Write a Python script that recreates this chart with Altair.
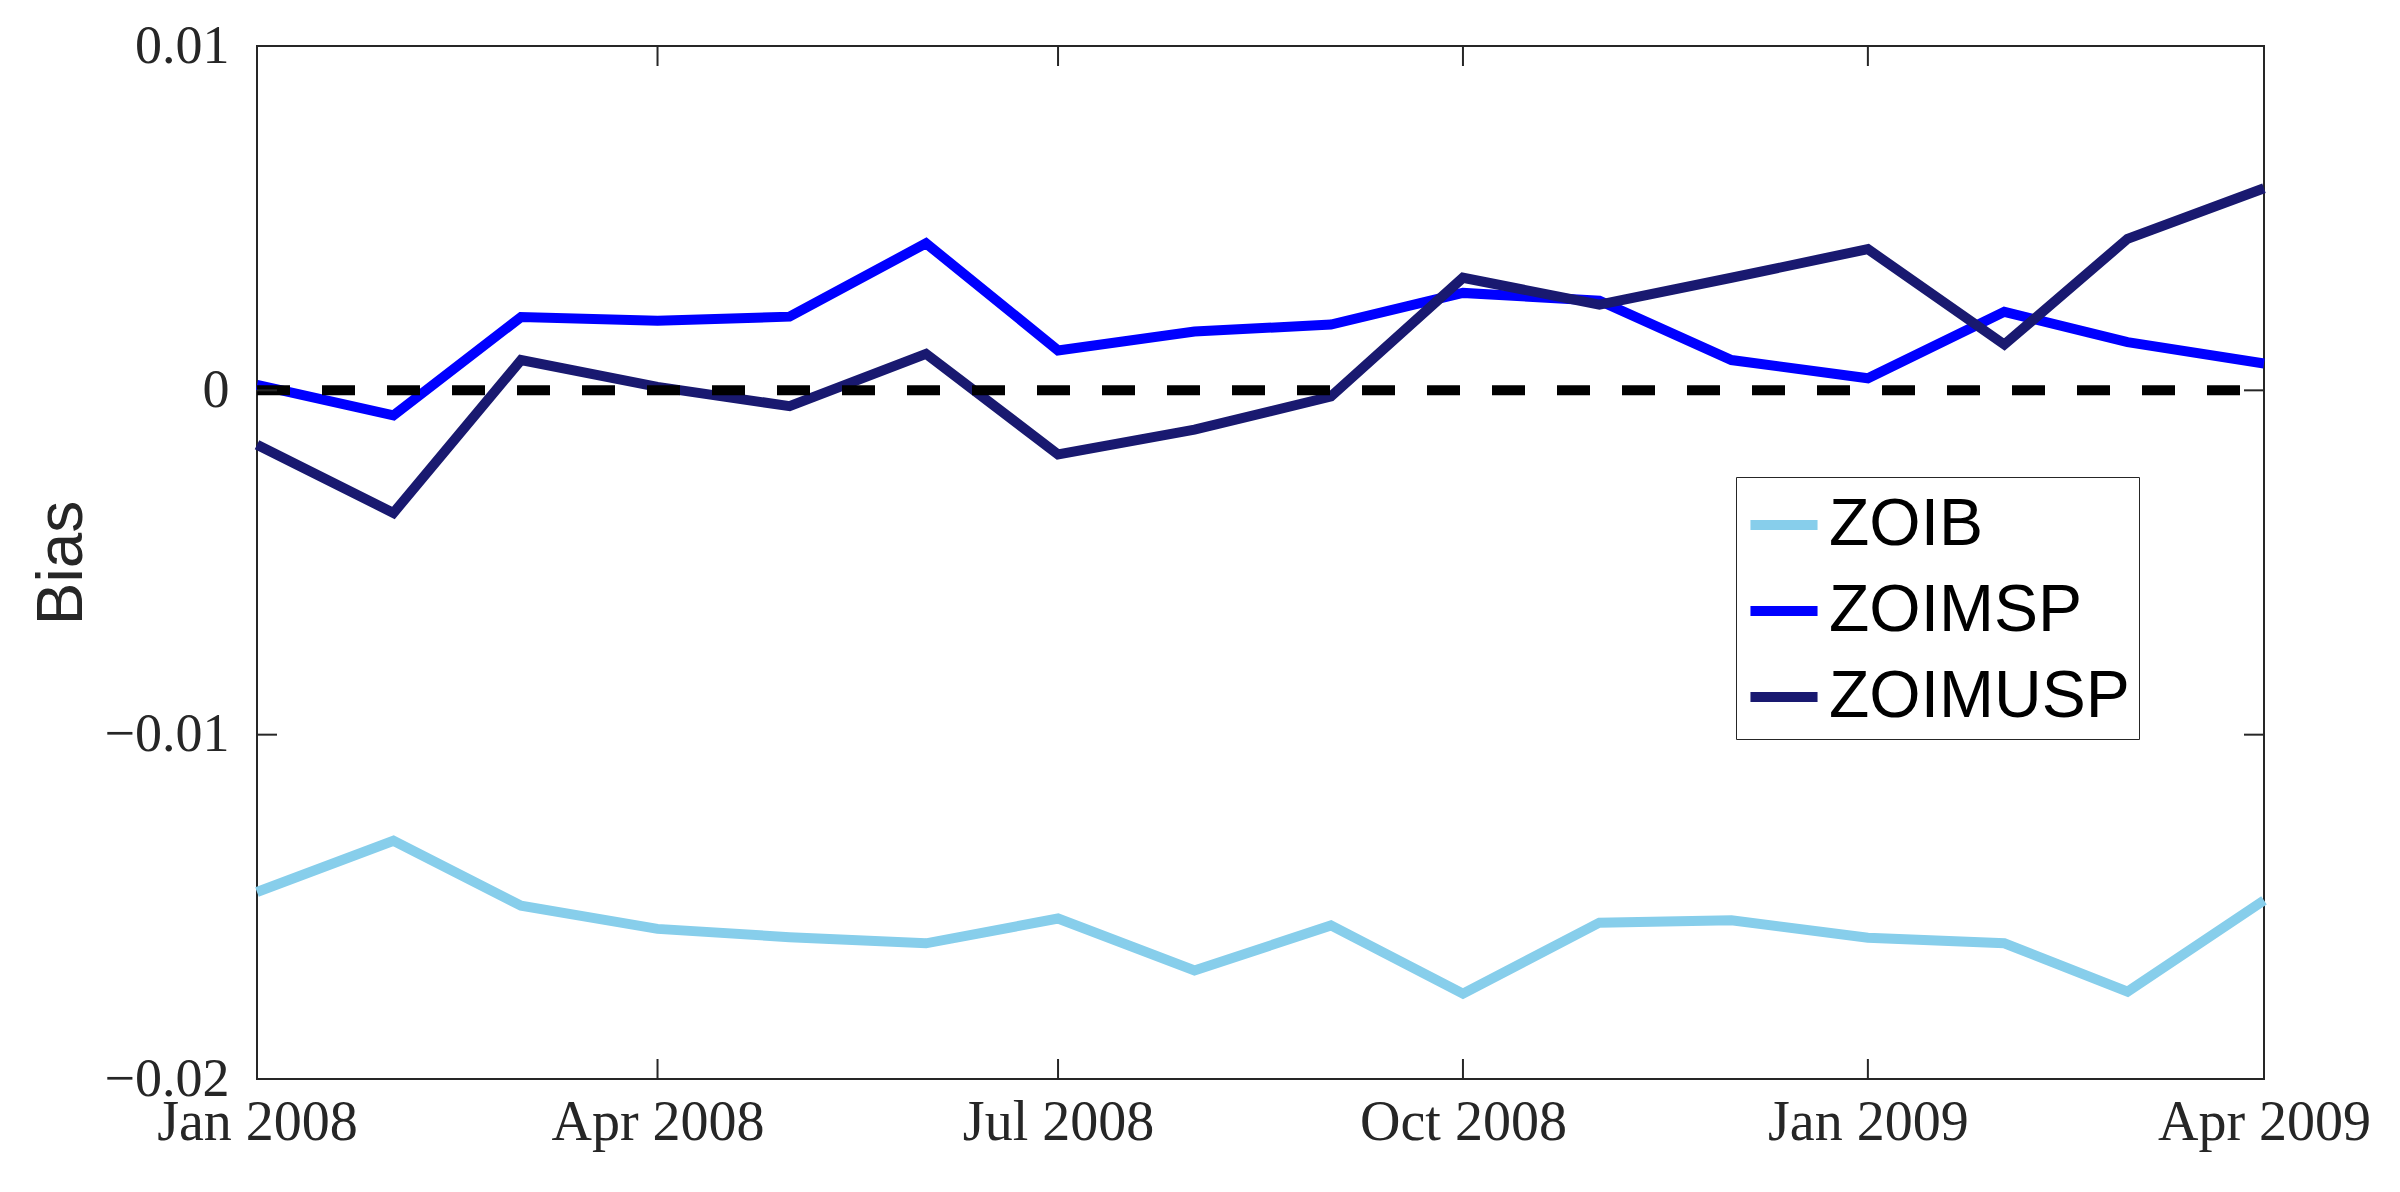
import altair as alt
import pandas as pd

# ---- data ----
months = [
    "2008-01-01T00:00:00", "2008-02-01T00:00:00", "2008-03-01T00:00:00", "2008-04-01T00:00:00",
    "2008-05-01T00:00:00", "2008-06-01T00:00:00", "2008-07-01T00:00:00", "2008-08-01T00:00:00",
    "2008-09-01T00:00:00", "2008-10-01T00:00:00", "2008-11-01T00:00:00", "2008-12-01T00:00:00",
    "2009-01-01T00:00:00", "2009-02-01T00:00:00", "2009-03-01T00:00:00", "2009-04-01T00:00:00",
]
zoib = [-0.01457, -0.01308, -0.01497, -0.01564, -0.01588, -0.01606, -0.01534, -0.01685,
        -0.01554, -0.01752, -0.01546, -0.01539, -0.01590, -0.01606, -0.01746, -0.01481]
zoimsp = [0.00016, -0.00073, 0.00213, 0.00202, 0.00214, 0.00427, 0.00116, 0.00171,
          0.00191, 0.00283, 0.00260, 0.00088, 0.00035, 0.00228, 0.00140, 0.00078]
zoimusp = [-0.00158, -0.00356, 0.00088, 0.00010, -0.00046, 0.00106, -0.00186, -0.00114,
           -0.00018, 0.00327, 0.00249, 0.00327, 0.00410, 0.00133, 0.00440, 0.00587]

series_names = ["ZOIB", "ZOIMSP", "ZOIMUSP"]
series_colors = ["#87CEEB", "#0000FF", "#191970"]
y_ticks = [-0.02, -0.01, 0.0, 0.01]
x_ticks = ["2008-01-01", "2008-04-01", "2008-07-01", "2008-10-01", "2009-01-01", "2009-04-01"]
zero_line = [0.0]

# ---- tables ----
rows = []
for name, vals in zip(series_names, [zoib, zoimsp, zoimusp]):
    for m, v in zip(months, vals):
        rows.append({"date": m, "value": v, "series": name})
df = pd.DataFrame(rows)
ytick_df = pd.DataFrame({"value": y_ticks})
xtick_df = pd.DataFrame({"date": [t + "T00:00:00" for t in x_ticks]})
zero_df = pd.DataFrame({"value": zero_line})


def dt(s):
    t = pd.Timestamp(s)
    return alt.DateTime(year=t.year, month=t.month, date=t.day)


W, H = 2007, 1033
TL = 20
AXC = "#262626"
SERIF = "Liberation Serif"
SANS = "Liberation Sans"
LW = 10

xscale = alt.Scale(domain=[dt(months[0]), dt(months[-1])], nice=False)
yscale = alt.Scale(domain=[y_ticks[0], y_ticks[-1]], nice=False, zero=False)

x_axis = alt.Axis(values=[dt(t) for t in x_ticks], format="%b %Y", title=None,
                  labelFont=SERIF, labelFontSize=56, labelColor=AXC, labelPadding=16,
                  labelLimit=0, ticks=False, domain=False, grid=False, labelFlush=False,
                  labelOverlap=False)
y_axis = alt.Axis(values=y_ticks, format=".2~f", title="Bias",
                  titleFont=SANS, titleFontSize=64, titleFontWeight="normal",
                  titleColor=AXC, titlePadding=10,
                  labelFont=SERIF, labelFontSize=54, labelColor=AXC, labelPadding=28,
                  labelLimit=0, ticks=False, domain=False, grid=False)

lines = alt.Chart(df).mark_line(strokeWidth=LW, strokeJoin="miter").encode(
    x=alt.X("date:T", scale=xscale, axis=x_axis),
    y=alt.Y("value:Q", scale=yscale, axis=y_axis),
    color=alt.Color("series:N",
                    scale=alt.Scale(domain=series_names, range=series_colors),
                    legend=alt.Legend(title=None, orient="none", legendX=1479, legendY=431,
                                      fillColor="white", strokeColor=AXC, padding=9,
                                      symbolType="stroke", symbolStrokeWidth=LW, symbolSize=4500,
                                      labelFont=SANS, labelFontSize=66, labelColor="black",
                                      labelLimit=0, rowPadding=14, labelOffset=6)),
)

zero = alt.Chart(zero_df).mark_rule(color="black", strokeWidth=LW, strokeDash=[33, 32]).encode(
    y=alt.Y("value:Q", scale=yscale, axis=y_axis),
    x=alt.value(0), x2=alt.value(W),
)

ytl = alt.Chart(ytick_df).mark_rule(color=AXC, strokeWidth=2).encode(
    y=alt.Y("value:Q", scale=yscale, axis=y_axis), x=alt.value(0), x2=alt.value(TL))
ytr = alt.Chart(ytick_df).mark_rule(color=AXC, strokeWidth=2).encode(
    y=alt.Y("value:Q", scale=yscale, axis=y_axis), x=alt.value(W - TL), x2=alt.value(W))
xtb = alt.Chart(xtick_df).mark_rule(color=AXC, strokeWidth=2).encode(
    x=alt.X("date:T", scale=xscale, axis=x_axis), y=alt.value(H - TL), y2=alt.value(H))
xtt = alt.Chart(xtick_df).mark_rule(color=AXC, strokeWidth=2).encode(
    x=alt.X("date:T", scale=xscale, axis=x_axis), y=alt.value(0), y2=alt.value(TL))

chart = alt.layer(lines, zero, ytl, ytr, xtb, xtt).properties(
    width=W, height=H,
    padding={"left": 249, "top": 38, "right": 120, "bottom": 100},
    autosize=alt.AutoSizeParams(type="none"),
    background="white",
).configure_view(stroke=AXC, strokeWidth=2)

chart.save("out.html", embed_options={"renderer": "svg", "actions": False})
